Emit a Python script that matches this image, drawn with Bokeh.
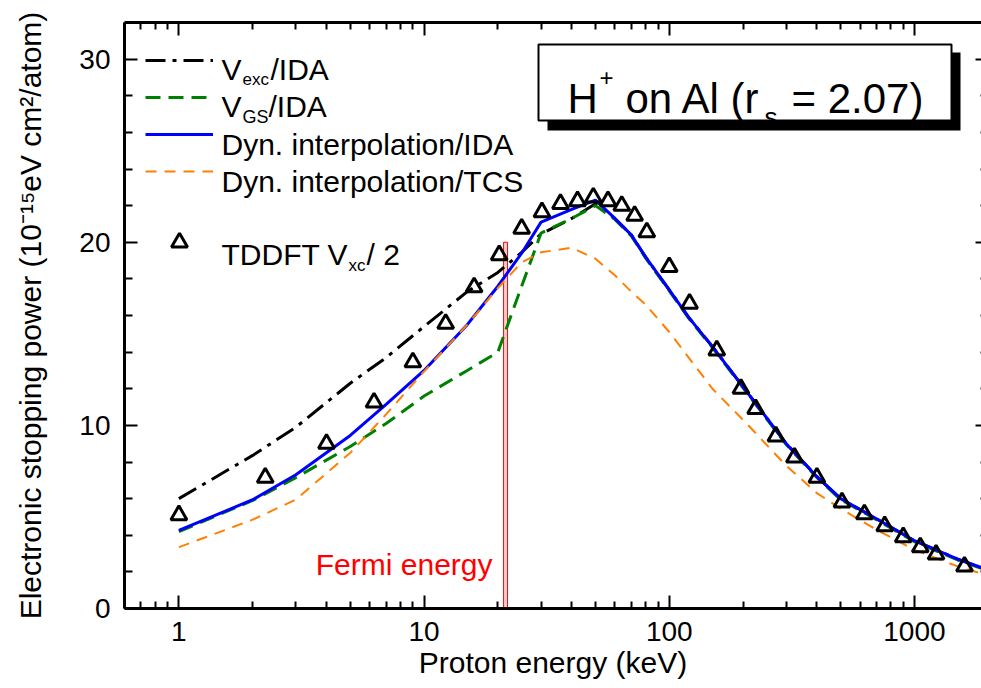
from bokeh.plotting import figure
from bokeh.models import (LogAxis, LinearAxis, FixedTicker, BasicTickFormatter, Label, Legend,
                          LegendItem, BoxAnnotation)
from bokeh.embed import file_html
from bokeh.resources import INLINE

# ---------------- data ----------------
energy = [1, 2, 3, 5, 7, 10, 15, 20, 25, 30, 40, 50, 60, 70, 80, 100, 120, 150,
          200, 300, 400, 500, 700, 1000, 1500, 2000]
s_vexc_ida = [6.0, 8.36, 9.9, 12.3, 13.7, 15.4, 17.3, 18.35, 19.45, 20.45, 21.3, 22.1,
              21.3, 20.4, 19.2, 17.4, 15.9, 14.3, 12.1, 9.0, 7.2, 6.0, 4.9, 3.7, 2.7, 2.1]
s_vgs_ida = [4.2, 5.9, 7.15, 8.85, 10.1, 11.6, 13.0, 14.0, 17.6, 20.5, 21.3, 22.0,
             21.25, 20.35, 19.15, 17.35, 15.85, 14.25, 12.05, 8.95, 7.15, 5.95, 4.85, 3.65, 2.65, 2.05]
s_dyn_ida = [4.26, 5.94, 7.3, 9.45, 11.15, 13.0, 15.5, 17.6, 19.4, 21.1, 21.8, 22.3,
             21.3, 20.4, 19.2, 17.4, 15.9, 14.3, 12.1, 9.0, 7.2, 6.0, 4.9, 3.7, 2.7, 2.1]
s_dyn_tcs = [3.35, 4.85, 5.95, 8.5, 10.6, 12.95, 15.5, 17.5, 18.9, 19.45, 19.7, 19.1,
             18.2, 17.3, 16.6, 15.1, 13.7, 12.0, 10.3, 7.8, 6.3, 5.45, 4.3, 3.2, 2.3, 1.8]

tddft_energy = [1.0, 2.25, 4.0, 6.25, 9.0, 12.25, 16.0, 20.25, 25.0, 30.25, 36.0, 42.25,
                49.0, 56.25, 64.0, 72.25, 81.0, 100.0, 121.0, 156.25, 196.0, 225.0, 272.25,
                324.0, 400.0, 506.25, 625.0, 756.25, 900.0, 1056.25, 1225.0, 1600.0]
tddft_sp = [5.1, 7.15, 9.0, 11.25, 13.45, 15.55, 17.55, 19.3, 20.75, 21.65, 22.1, 22.25,
            22.45, 22.25, 22.0, 21.45, 20.55, 18.65, 16.65, 14.1, 12.0, 10.9, 9.4,
            8.25, 7.15, 5.8, 5.15, 4.5, 3.9, 3.35, 2.95, 2.3]

fermi_left = [21.1]
fermi_right = [21.9]
fermi_top = [20.0]

x_major = [1, 10, 100, 1000]
x_minor = [0.6, 0.7, 0.8, 0.9, 2, 3, 4, 5, 6, 7, 8, 9, 20, 30, 40, 50, 60, 70, 80, 90,
           200, 300, 400, 500, 600, 700, 800, 900, 2000]
y_major = [0, 10, 20, 30]
y_minor = [2, 4, 6, 8, 12, 14, 16, 18, 22, 24, 26, 28]

FONT = "Liberation Sans"

# ---------------- figure ----------------
p = figure(width=981, height=688, x_axis_type="log", x_range=(0.6, 1877), y_range=(0, 32),
           output_backend="svg", toolbar_location=None,
           min_border_left=124, min_border_right=0, min_border_top=22, min_border_bottom=80)
p.outline_line_color = None
p.xgrid.visible = False
p.ygrid.visible = False
p.background_fill_color = "white"


def style_axis(ax, tin=13, min_in=7):
    ax.axis_line_width = 3
    ax.axis_line_color = "black"
    ax.major_tick_in = tin
    ax.major_tick_out = 0
    ax.minor_tick_in = min_in
    ax.minor_tick_out = 0
    ax.major_tick_line_width = 2
    ax.minor_tick_line_width = 2
    ax.major_label_text_font = FONT
    ax.major_label_text_font_size = "28px"
    ax.major_label_text_color = "black"
    ax.axis_label_text_font = FONT
    ax.axis_label_text_font_size = "30px"
    ax.axis_label_text_font_style = "normal"
    ax.axis_label_text_color = "black"


def hide_labels(ax, ticks):
    ax.major_label_overrides = {t: "" for t in ticks}
    ax.major_label_text_font_size = "1px"
    ax.major_label_text_alpha = 0
    ax.major_label_standoff = 0


xa = p.xaxis[0]
xa.ticker = FixedTicker(ticks=x_major, minor_ticks=x_minor)
xa.formatter = BasicTickFormatter()
style_axis(xa)
xa.major_label_standoff = 13
xa.axis_label = "Proton energy (keV)"
xa.axis_label_standoff = 2

ya = p.yaxis[0]
ya.ticker = FixedTicker(ticks=y_major, minor_ticks=y_minor)
style_axis(ya, 13, 8)
ya.major_label_standoff = 14
ya.axis_label = "Electronic stopping power (10\u207b\u00b9\u2075eV cm\u00b2/atom)"
ya.axis_label_standoff = 29

top = LogAxis(ticker=FixedTicker(ticks=x_major, minor_ticks=x_minor))
style_axis(top)
hide_labels(top, x_major)
p.add_layout(top, "above")

right = LinearAxis(ticker=FixedTicker(ticks=y_major, minor_ticks=y_minor))
style_axis(right, 6, 1)
right.axis_line_color = None
hide_labels(right, y_major)
p.add_layout(right, "right")

# ---------------- Fermi energy marker ----------------
p.quad(left=fermi_left, right=fermi_right, bottom=[0], top=fermi_top,
       fill_color="#ffd0d0", line_color="red", line_width=1)

# ---------------- curves ----------------
r_exc = p.line(energy, s_vexc_ida, line_color="black", line_width=3, line_dash="20 7 4 7")
r_gs = p.line(energy, s_vgs_ida, line_color="#008000", line_width=3, line_dash="15 8")
r_ida = p.line(energy, s_dyn_ida, line_color="#0000ff", line_width=3)
r_tcs = p.line(energy, s_dyn_tcs, line_color="#ff8000", line_width=2, line_dash="11 8")
r_td = p.scatter(tddft_energy, tddft_sp, marker="triangle", size=16, line_width=3,
                 line_color="black", fill_color=None)

# ---------------- legend (samples only; texts are labels below) ----------------
common = dict(orientation="vertical", glyph_width=68, padding=0, margin=0,
              border_line_color=None, background_fill_alpha=0,
              label_text_font_size="10px", label_standoff=2, label_text_alpha=0)
leg1 = Legend(items=[LegendItem(label=".", renderers=[r_exc]),
                     LegendItem(label=".", renderers=[r_gs]),
                     LegendItem(label=".", renderers=[r_ida]),
                     LegendItem(label=".", renderers=[r_tcs])],
              location=(21, 427), spacing=17, glyph_height=20, label_height=20, **common)
leg2 = Legend(items=[LegendItem(label=".", renderers=[r_td])],
              location=(21, 346), spacing=0, glyph_height=40, label_height=40, **common)
p.add_layout(leg1)
p.add_layout(leg2)

# frame origin in picture pixels: left 124, bottom 608
FX, FY = 124, 608


def lab(text, x, y, size, color="black", align="left"):
    p.add_layout(Label(x=x - FX, y=FY - y, x_units="screen", y_units="screen", text=text,
                       text_font=FONT, text_font_size=f"{size}px", text_color=color,
                       text_align=align, text_baseline="alphabetic"))


# title box with shadow
p.add_layout(BoxAnnotation(left=547 - FX, right=960 - FX, top=FY - 52, bottom=FY - 130,
                           left_units="screen", right_units="screen", top_units="screen",
                           bottom_units="screen", fill_color="black", fill_alpha=1,
                           line_color=None))
p.add_layout(BoxAnnotation(left=538 - FX, right=951 - FX, top=FY - 44, bottom=FY - 120,
                           left_units="screen", right_units="screen", top_units="screen",
                           bottom_units="screen", fill_color="white", fill_alpha=1,
                           line_color="black", line_alpha=1, line_width=2))

# legend texts
lab("V", 221, 69, 30)
lab("exc", 242, 79, 17)
lab("/IDA", 270, 69, 30)
lab("V", 221, 106, 30)
lab("GS", 242, 116, 18)
lab("/IDA", 268, 106, 30)
lab("Dyn. interpolation/IDA", 221, 144, 30)
lab("Dyn. interpolation/TCS", 221, 181, 30)
lab("TDDFT V", 221, 254, 30)
lab("xc", 348, 265, 17)
lab("/ 2", 366, 254, 30)

# Fermi label
lab("Fermi energy", 492, 564, 30, color="red", align="right")

# title text
lab("H", 567, 98, 42)
lab("+", 599, 77, 24)
lab("on Al (r", 625, 98, 42)
lab("s", 764, 116, 26)
lab("= 2.07)", 791, 98, 42)

open("out.html", "w").write(file_html(p, INLINE))
